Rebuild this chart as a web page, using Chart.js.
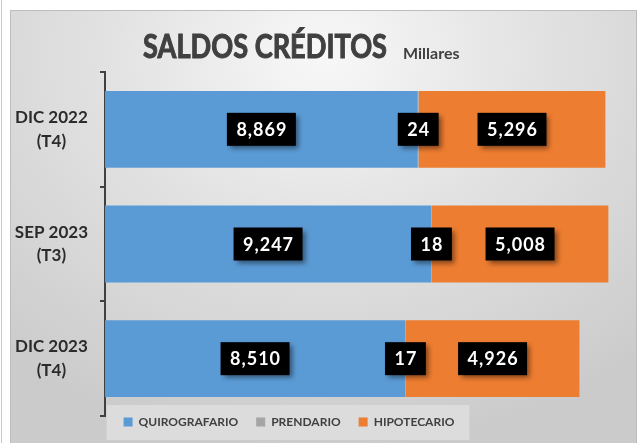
<!DOCTYPE html>
<html>
<head>
<meta charset="utf-8">
<script src="https://cdn.jsdelivr.net/npm/chart.js@4"></script>
<style>
  html, body { margin: 0; padding: 0; background: #fff; }
  body { width: 638px; height: 443px; position: relative; overflow: hidden; }
  #edge { position: absolute; left: 1px; top: 0; width: 1px; height: 443px; background: #c8c8c8; }
  #frame {
    position: absolute; left: 10px; top: 10px; width: 625px; height: 440px;
    border: 1.5px solid #bdbdbd;
    background: radial-gradient(ellipse 78% 90% at 50% 10%, #f8f8f8 0%, #e3e3e3 42%, #cbcbcb 100%);
  }
  #chart { position: absolute; left: 0; top: 0; }
</style>
</head>
<body>
<div id="edge"></div>
<div id="frame"></div>
<canvas id="chart" width="638" height="443"></canvas>
<script>
const categories = [["DIC 2022", "(T4)"], ["SEP 2023", "(T3)"], ["DIC 2023", "(T4)"]];
const quirografario = [8869, 9247, 8510];
const prendario = [24, 18, 17];
const hipotecario = [5296, 5008, 4926];

const titleText = "SALDOS CRÉDITOS";
const unitText = "Millares";
const legendPad = 18;

// title + unit + legend backdrop, drawn before the chart itself
const titlePlugin = {
    id: "titleBits",
    beforeDraw(chart) {
        const ctx = chart.ctx;
        ctx.save();
        ctx.fillStyle = "#404040";
        ctx.strokeStyle = "#404040";
        ctx.lineWidth = 1;
        ctx.textBaseline = "alphabetic";
        ctx.font = "bold 33px Lato";
        const w = ctx.measureText(titleText).width;
        ctx.translate(143, 58);
        ctx.scale(244 / w, 1);
        ctx.fillText(titleText, 0, 0);
        ctx.strokeText(titleText, 0, 0);
        ctx.restore();

        ctx.save();
        ctx.fillStyle = "#404040";
        ctx.font = "bold 16px Lato";
        ctx.fillText(unitText, 403, 54);
        ctx.restore();

        const lg = chart.legend;
        if (lg && lg.lineWidths) {
            const W = lg.lineWidths[0];
            const startX = (lg.left + legendPad + lg.right - W) / 2;
            const cy = lg.top + legendPad + 6;
            ctx.save();
            ctx.fillStyle = "#dcdcdc";
            ctx.fillRect(startX - 17, cy - 17, W - legendPad + 32, 35);
            ctx.restore();
        }
    },
    afterLayout(chart) {
        const lg = chart.legend;
        if (!lg || !lg.lineWidths) return;
        const W = lg.lineWidths[0];
        const cur = (lg.left + legendPad + lg.right - W) / 2;
        const dx = 289 - (cur + (W - legendPad) / 2);
        lg.left += dx; lg.right += dx;
        lg.top = 422 - legendPad - 6; lg.bottom = 443;
    }
};

// black value boxes in the middle of each segment
const boxLabels = {
    id: "boxLabels",
    afterDatasetsDraw(chart) {
        const ctx = chart.ctx;
        chart.data.datasets.forEach((ds, i) => {
            const meta = chart.getDatasetMeta(i);
            meta.data.forEach((bar, j) => {
                const txt = ds.data[j].toLocaleString("en-US");
                const cx = (bar.x + bar.base) / 2;
                const cy = bar.y;
                ctx.save();
                ctx.font = "bold 18px Lato";
                ctx.letterSpacing = "1px";
                const tw = ctx.measureText(txt).width;
                const bw = tw + 18, bh = 33;
                ctx.shadowColor = "rgba(0,0,0,0.45)";
                ctx.shadowBlur = 5;
                ctx.shadowOffsetX = 3;
                ctx.shadowOffsetY = 3;
                ctx.fillStyle = "#000";
                ctx.fillRect(cx - bw / 2, cy - bh / 2, bw, bh);
                ctx.shadowColor = "transparent";
                ctx.fillStyle = "#fff";
                ctx.textAlign = "center";
                ctx.textBaseline = "middle";
                ctx.fillText(txt, cx + 0.5, cy + 1);
                ctx.restore();
            });
        });
    }
};

new Chart(document.getElementById("chart"), {
    type: "bar",
    data: {
        labels: categories,
        datasets: [
            { label: "QUIROGRAFARIO", data: quirografario, backgroundColor: "#5b9bd5" },
            { label: "PRENDARIO", data: prendario, backgroundColor: "#a5a5a5" },
            { label: "HIPOTECARIO", data: hipotecario, backgroundColor: "#ed7d31" }
        ]
    },
    options: {
        indexAxis: "y",
        responsive: false,
        maintainAspectRatio: false,
        animation: false,
        datasets: { bar: { categoryPercentage: 1, barPercentage: 0.67 } },
        layout: { padding: { top: 72, left: 0, right: 4, bottom: 0 } },
        scales: {
            x: { stacked: true, display: false, min: 0, max: 15000 },
            y: {
                stacked: true,
                afterFit(scale) {
                    scale.width = 105;
                    scale.paddingTop = 0;
                    scale.paddingBottom = 0;
                },
                border: { display: true, color: "#404040", width: 2 },
                grid: { offset: true, drawOnChartArea: false, drawTicks: true, tickLength: 5, color: "#404040", lineWidth: 2 },
                ticks: {
                    crossAlign: "center",
                    padding: 12,
                    color: "#2b2b2b",
                    font: { family: "Lato", weight: "bold", size: 17, lineHeight: 1.4 }
                }
            }
        },
        plugins: {
            legend: {
                position: "bottom",
                maxHeight: 27,
                labels: {
                    boxWidth: 9,
                    boxHeight: 9,
                    padding: legendPad,
                    color: "#404040",
                    font: { family: "Lato", weight: "bold", size: 12 }
                }
            },
            tooltip: { enabled: false }
        }
    },
    plugins: [titlePlugin, boxLabels]
});
</script>
</body>
</html>
